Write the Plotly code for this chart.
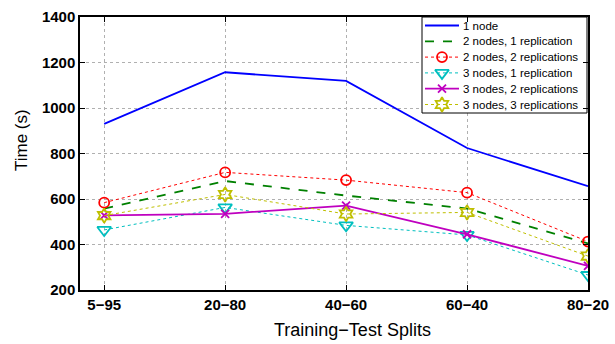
import plotly.graph_objects as go

splits = ["5\u221295", "20\u221280", "40\u221260", "60\u221240", "80\u221220"]
one_node = [930, 1157, 1119, 824, 656]
two_nodes_1rep = [558, 679, 615, 558, 405]
two_nodes_2rep = [584, 717, 683, 628, 413]
three_nodes_1rep = [464, 563, 484, 442, 266]
three_nodes_2rep = [528, 535, 571, 445, 306]
three_nodes_3rep = [527, 620, 534, 541, 349]
y_ticks = [200, 400, 600, 800, 1000, 1200, 1400]

W, H = 615, 344
ML, MR, MT, MB = 80, 27, 17, 54
PW, PH = W - ML - MR, H - MT - MB

xs = list(range(len(splits)))
fig = go.Figure()

series = [
    ("1 node", one_node, "#0000ff", "solid", 1.8, None, 0),
    ("2 nodes, 1 replication", two_nodes_1rep, "#008000", "dash", 1.8, None, 0),
    ("2 nodes, 2 replications", two_nodes_2rep, "#ff0000", "dot", 1.0, "circle-open", 10),
    ("3 nodes, 1 replication", three_nodes_1rep, "#00bfbf", "dot", 1.0, "triangle-down-open", 12),
    ("3 nodes, 2 replications", three_nodes_2rep, "#bf00bf", "solid", 1.8, "x-thin-open", 8),
    ("3 nodes, 3 replications", three_nodes_3rep, "#bfbf00", "dot", 1.0, "hexagram-open", 11),
]
for name, vals, color, dash, w, sym, ms in series:
    mode = "lines+markers" if sym else "lines"
    marker = dict(symbol=sym, size=ms, color=color, line=dict(color=color, width=1.8)) if sym else None
    fig.add_trace(go.Scatter(x=xs, y=vals, name=name, mode=mode, showlegend=False,
                             line=dict(color=color, dash=dash, width=w),
                             marker=marker))

# ---- legend (drawn on an overlay axis measured in pixels) ----
LEG_LEFT, LEG_RIGHT, LEG_TOP, LEG_BOTTOM = 422, 587, MT, 113
ROW0, ROW_STEP = 25.5, 15.8
KEY_X0, KEY_X1, TEXT_X = 425, 459, 461

fig.add_trace(go.Scatter(x=[LEG_LEFT, LEG_RIGHT, LEG_RIGHT, LEG_LEFT, LEG_LEFT],
                         y=[LEG_TOP, LEG_TOP, LEG_BOTTOM, LEG_BOTTOM, LEG_TOP],
                         xaxis="x2", yaxis="y2", mode="lines", fill="toself",
                         fillcolor="white", line=dict(color="black", width=1),
                         showlegend=False, hoverinfo="skip"))
for i, (name, vals, color, dash, w, sym, ms) in enumerate(series):
    yc = ROW0 + ROW_STEP * i
    fig.add_trace(go.Scatter(x=[KEY_X0, KEY_X1], y=[yc, yc], xaxis="x2", yaxis="y2",
                             mode="lines", line=dict(color=color, dash=dash, width=w),
                             showlegend=False, hoverinfo="skip"))
    if sym:
        fig.add_trace(go.Scatter(x=[(KEY_X0 + KEY_X1) / 2], y=[yc], xaxis="x2", yaxis="y2",
                                 mode="markers",
                                 marker=dict(symbol=sym, size=ms, color=color, line=dict(color=color, width=1.8)),
                                 showlegend=False, hoverinfo="skip"))
    fig.add_annotation(x=TEXT_X, y=yc, xref="x2", yref="y2", text=name, showarrow=False,
                       xanchor="left", yanchor="middle",
                       font=dict(family="Liberation Sans", size=11.5, color="black"))

# axis titles (placed as in the reference)
fig.add_annotation(x=(352 - ML) / PW, y=(H - MB - 330) / PH, xref="paper", yref="paper",
                   text="Training\u2212Test Splits", showarrow=False, xanchor="center", yanchor="middle",
                   font=dict(family="Liberation Sans", size=18, color="black"))
fig.add_annotation(x=(21 - ML) / PW, y=(H - MB - 140) / PH, xref="paper", yref="paper",
                   text="Time (s)", showarrow=False, xanchor="center", yanchor="middle", textangle=-90,
                   font=dict(family="Liberation Sans", size=17, color="black"))

axis_common = dict(showline=True, linecolor="black", linewidth=1.5, mirror="ticks",
                   ticks="inside", ticklen=5, tickcolor="black",
                   showgrid=True, gridcolor="#b0b0b0", griddash="dot", gridwidth=1,
                   zeroline=False, automargin=False,
                   tickfont=dict(family="Liberation Sans", size=15, color="black", weight="bold"))

fig.update_xaxes(range=[-0.2, 4], tickvals=xs, ticktext=splits, **axis_common)
fig.update_yaxes(range=[200, 1400], tickvals=y_ticks, **axis_common)

fig.update_layout(
    width=W, height=H,
    margin=dict(l=ML, r=MR, t=MT, b=MB, autoexpand=False),
    plot_bgcolor="white", paper_bgcolor="white",
    font=dict(family="Liberation Sans", color="black"),
    showlegend=False,
    xaxis2=dict(overlaying="x", range=[ML, W - MR], visible=False, fixedrange=True, automargin=False),
    yaxis2=dict(overlaying="y", range=[H - MB, MT], visible=False, fixedrange=True, automargin=False),
)

fig.write_html("out.html")
